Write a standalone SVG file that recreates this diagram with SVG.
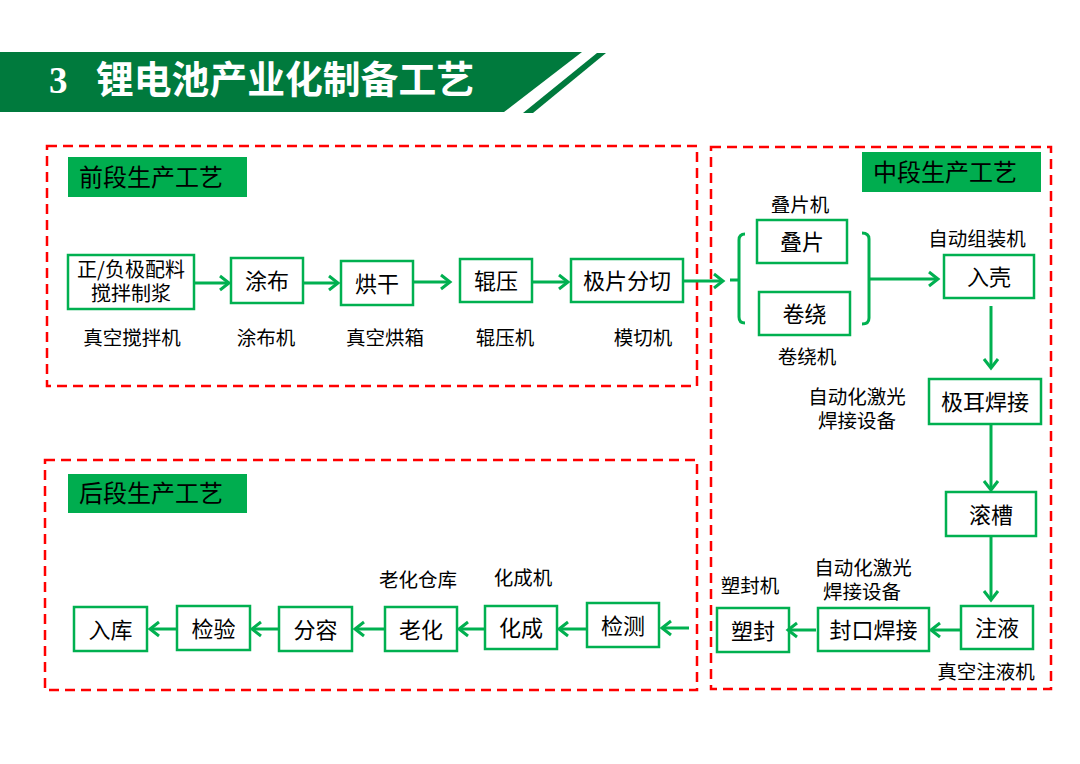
<svg xmlns="http://www.w3.org/2000/svg" width="1080" height="764" viewBox="0 0 1080 764">
<defs>
<marker id="ah" markerUnits="userSpaceOnUse" markerWidth="16" markerHeight="18" refX="12" refY="9" orient="auto" overflow="visible">
<path d="M3,2 L12,9 L3,16" fill="none" stroke="#00B050" stroke-width="3" stroke-linejoin="miter"/>
</marker>
<style>
.sec{fill:none;stroke:#FF0000;stroke-width:2.5;stroke-dasharray:10 6}
.lbl{fill:#00AD4F}
.lt{font-family:"Noto Sans CJK SC","Noto Sans",sans-serif;font-size:24px;fill:#000}
.nb{fill:#fff;stroke:#00B050;stroke-width:2.5}
.nt{font-family:"Noto Sans CJK SC","Noto Sans",sans-serif;font-size:22px;fill:#000;text-anchor:middle;dominant-baseline:central;transform:translateY(-1.5px)}
.cap{font-family:"Noto Sans CJK SC","Noto Sans",sans-serif;font-size:19.5px;fill:#000;text-anchor:middle;dominant-baseline:central;transform:translateY(-1.5px)}
.ar{fill:none;stroke:#00B050;stroke-width:3;marker-end:url(#ah)}
.ln{fill:none;stroke:#00B050;stroke-width:3}
</style>
</defs>
<rect width="1080" height="764" fill="#fff"/>
<g id="title">
<polygon points="0,52 582,52 504,112 0,112" fill="#007A3D"/>
<polygon points="597,53 606,53 533,113 523,113" fill="#007A3D"/>
<text x="49" y="93" font-family="Liberation Serif,serif" font-weight="bold" font-size="37" fill="#fff">3</text>
<text x="96" y="93" font-family="Noto Sans CJK SC,sans-serif" font-weight="bold" font-size="37.8" fill="#fff">锂电池产业化制备工艺</text>
</g>
<g id="sections">
<rect class="sec" x="47" y="146" width="650" height="240"/>
<rect class="sec" x="711" y="147" width="340" height="542"/>
<rect class="sec" x="45" y="460" width="652" height="230"/>
</g>
<g id="label-front"><rect class="lbl" x="68" y="157" width="179" height="40"/><text class="lt" x="79" y="186">前段生产工艺</text></g>
<g id="label-mid"><rect class="lbl" x="862" y="152" width="179" height="40"/><text class="lt" x="873" y="181">中段生产工艺</text></g>
<g id="label-back"><rect class="lbl" x="68" y="474" width="179" height="39"/><text class="lt" x="79" y="502">后段生产工艺</text></g>

<g id="n-mix"><rect class="nb" x="68" y="255" width="126" height="54"/><text class="nt" x="131" y="270" style="font-size:20px">正/负极配料</text><text class="nt" x="131" y="294" style="font-size:20px">搅拌制浆</text></g>
<g id="n-coat"><rect class="nb" x="231" y="258" width="72" height="45"/><text class="nt" x="267" y="280.5">涂布</text></g>
<g id="n-dry"><rect class="nb" x="341" y="261" width="72" height="44"/><text class="nt" x="377" y="283">烘干</text></g>
<g id="n-roll"><rect class="nb" x="460" y="259" width="72" height="43"/><text class="nt" x="496" y="280.5">辊压</text></g>
<g id="n-cut"><rect class="nb" x="571" y="259" width="112" height="43"/><text class="nt" x="627" y="280.5">极片分切</text></g>

<g id="n-stack"><rect class="nb" x="757" y="220" width="90" height="43"/><text class="nt" x="802" y="241.5">叠片</text></g>
<g id="n-wind"><rect class="nb" x="759" y="292" width="91" height="43"/><text class="nt" x="804.5" y="313.5">卷绕</text></g>
<g id="n-case"><rect class="nb" x="944" y="255" width="90" height="43"/><text class="nt" x="989" y="276.5">入壳</text></g>
<g id="n-tab"><rect class="nb" x="929" y="379" width="112" height="45"/><text class="nt" x="985" y="401.5">极耳焊接</text></g>
<g id="n-groove"><rect class="nb" x="946" y="492" width="90" height="44"/><text class="nt" x="991" y="514">滚槽</text></g>
<g id="n-fill"><rect class="nb" x="961" y="606" width="72" height="43"/><text class="nt" x="997" y="627.5">注液</text></g>
<g id="n-seal"><rect class="nb" x="818" y="608" width="111" height="43"/><text class="nt" x="873.5" y="629.5">封口焊接</text></g>
<g id="n-plastic"><rect class="nb" x="717" y="608" width="72" height="44"/><text class="nt" x="753" y="630">塑封</text></g>

<g id="n-test"><rect class="nb" x="587" y="603" width="72" height="44"/><text class="nt" x="623" y="625">检测</text></g>
<g id="n-form"><rect class="nb" x="485" y="606" width="72" height="43"/><text class="nt" x="521" y="627.5">化成</text></g>
<g id="n-age"><rect class="nb" x="385" y="607" width="72" height="44"/><text class="nt" x="421" y="629">老化</text></g>
<g id="n-grade"><rect class="nb" x="279" y="607" width="73" height="44"/><text class="nt" x="315.5" y="629">分容</text></g>
<g id="n-inspect"><rect class="nb" x="177" y="606" width="73" height="44"/><text class="nt" x="213.5" y="628">检验</text></g>
<g id="n-store"><rect class="nb" x="74" y="607" width="73" height="44"/><text class="nt" x="110.5" y="629">入库</text></g>

<g id="captions">
<text class="cap" x="132" y="338">真空搅拌机</text>
<text class="cap" x="266" y="338">涂布机</text>
<text class="cap" x="385" y="338">真空烘箱</text>
<text class="cap" x="505" y="338">辊压机</text>
<text class="cap" x="643" y="338">模切机</text>
<text class="cap" x="800" y="205">叠片机</text>
<text class="cap" x="807" y="357">卷绕机</text>
<text class="cap" x="977" y="239">自动组装机</text>
<text class="cap" x="857" y="397">自动化激光</text>
<text class="cap" x="857" y="421">焊接设备</text>
<text class="cap" x="750" y="586">塑封机</text>
<text class="cap" x="863" y="568">自动化激光</text>
<text class="cap" x="862" y="592">焊接设备</text>
<text class="cap" x="986" y="672">真空注液机</text>
<text class="cap" x="418" y="580">老化仓库</text>
<text class="cap" x="523" y="578">化成机</text>
</g>

<g id="connectors">
<line class="ar" x1="194" y1="283" x2="229" y2="283"/>
<line class="ar" x1="303" y1="283" x2="338" y2="283"/>
<line class="ar" x1="413" y1="282" x2="450" y2="282"/>
<line class="ar" x1="532" y1="282" x2="568" y2="282"/>
<line class="ar" x1="683" y1="281" x2="723" y2="281"/>
<path class="ln" d="M745,234 Q739,234 739,240 L739,317 Q739,323 745,323 M730,280 L739,280"/>
<path class="ln" d="M862,233 Q869,233 869,239 L869,318 Q869,324 862,324"/>
<line class="ar" x1="869" y1="279" x2="938" y2="279"/>
<line class="ar" x1="991" y1="306" x2="991" y2="368"/>
<line class="ar" x1="991" y1="424" x2="991" y2="490"/>
<line class="ar" x1="991" y1="536" x2="991" y2="600"/>
<line class="ar" x1="961" y1="630" x2="931" y2="630"/>
<line class="ar" x1="816" y1="630" x2="788" y2="630"/>
<line class="ar" x1="689" y1="628" x2="662" y2="628"/>
<line class="ar" x1="587" y1="629" x2="559" y2="629"/>
<line class="ar" x1="485" y1="629" x2="459" y2="629"/>
<line class="ar" x1="385" y1="629" x2="355" y2="629"/>
<line class="ar" x1="279" y1="629" x2="252" y2="629"/>
<line class="ar" x1="177" y1="629" x2="150" y2="629"/>
</g>
</svg>
